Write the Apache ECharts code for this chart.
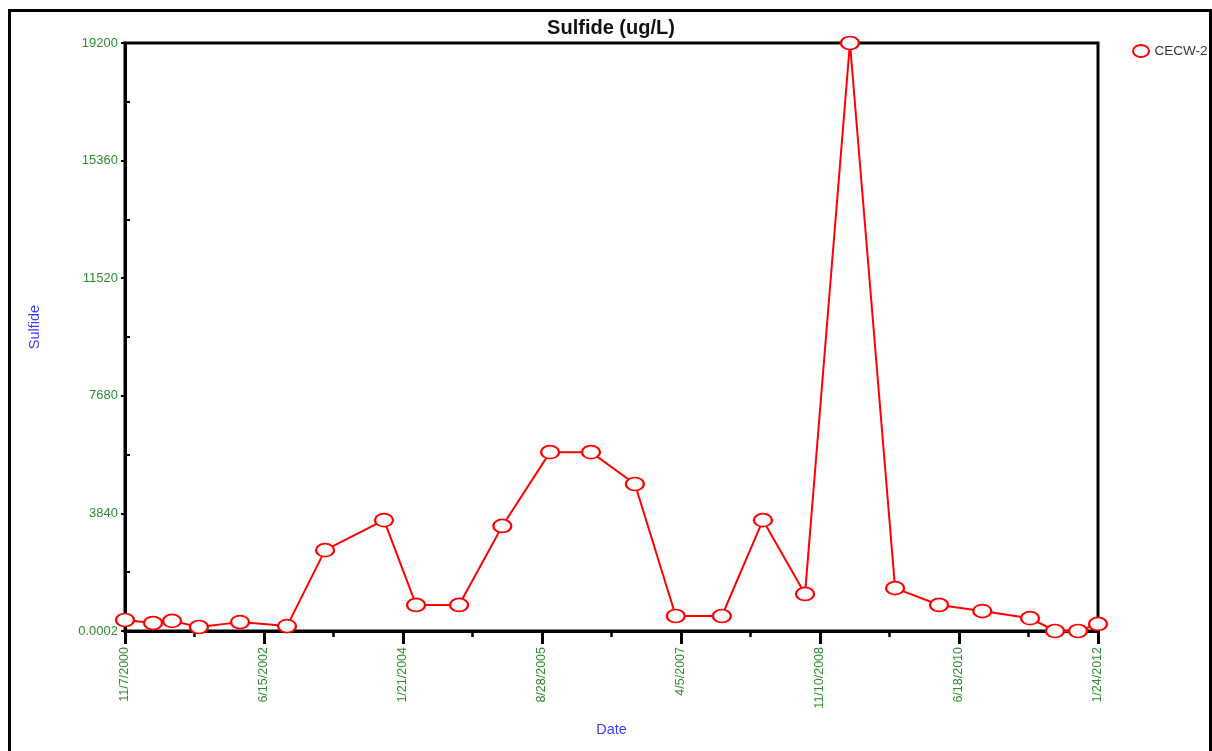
<!DOCTYPE html>
<html>
<head>
<meta charset="utf-8">
<title>Sulfide (ug/L)</title>
<script src="https://cdn.jsdelivr.net/npm/echarts@6/dist/echarts.min.js"></script>
<style>
  html, body { margin: 0; padding: 0; background: #fff; }
  #chart { width: 1212px; height: 751px; }
</style>
</head>
<body>
<div id="chart"></div>
<script>
// Sampling dates for well CECW-2 (M/D/YYYY)
const sampleDates = [
  '11/7/2000', '3/5/2001', '5/24/2001', '9/14/2001', '3/6/2002', '9/20/2002',
  '2/27/2003', '11/2/2003', '3/16/2004', '9/13/2004', '3/14/2005', '10/1/2005',
  '3/22/2006', '9/23/2006', '3/14/2007', '9/24/2007', '3/15/2008', '9/8/2008',
  '3/16/2009', '9/22/2009', '3/26/2010', '9/24/2010', '4/13/2011', '7/27/2011',
  '11/1/2011', '1/24/2012'
];
// Sulfide concentration, ug/L
const sulfideValues = [
  360, 260, 330, 130, 290, 160,
  2640, 3620, 850, 850, 3430, 5840,
  5840, 4800, 490, 490, 3620, 1210,
  19200, 1400, 850, 650, 420, 0,
  0, 230
];
// Axis tick labels
const xTickLabels = ['11/7/2000', '6/15/2002', '1/21/2004', '8/28/2005', '4/5/2007', '11/10/2008', '6/18/2010', '1/24/2012'];
const yTickLabels = ['0.0002', '3840', '7680', '11520', '15360', '19200'];

const DAY = 86400000;
function parseDate(s) {
  const [m, d, y] = s.split('/').map(Number);
  return Date.UTC(y, m - 1, d);
}
const origin = parseDate(xTickLabels[0]);
const toDays = s => Math.round((parseDate(s) - origin) / DAY);

const xStep = toDays(xTickLabels[1]);                       // 585 days
const xMax = toDays(xTickLabels[xTickLabels.length - 1]);   // 4095 days
const yStep = 3840;
const yMax = yStep * (yTickLabels.length - 1);

const seriesData = sampleDates.map((d, i) => [toDays(d), sulfideValues[i]]);

const font = 'Liberation Sans, Arial, sans-serif';
const green = '#2e8b2e';
const blue = '#3c3cff';
const red = '#ff0000';
const ellipse = 'path://M0,6 A8,6 0 1 0 16,6 A8,6 0 1 0 0,6 Z';

const chart = echarts.init(document.getElementById('chart'), null, { renderer: 'canvas' });

chart.setOption({
  backgroundColor: '#fff',
  animation: false,
  textStyle: { fontFamily: font },
  title: {
    text: 'Sulfide (ug/L)',
    left: 606,
    textAlign: 'center',
    top: 13,
    textStyle: { fontSize: 20, fontWeight: 'bold', color: '#111', fontFamily: font }
  },
  legend: {
    left: 1132,
    top: 44,
    padding: 0,
    itemWidth: 17,
    itemHeight: 12,
    itemGap: 5,
    icon: ellipse,
    textStyle: { fontSize: 13.5, color: '#333', fontFamily: font },
    data: ['CECW-2']
  },
  grid: {
    left: 125, right: 114, top: 43, bottom: 120,
    show: true, borderColor: '#000', borderWidth: 3, backgroundColor: 'transparent'
  },
  xAxis: {
    type: 'value',
    min: 0,
    max: xMax,
    interval: xStep,
    name: 'Date',
    nameLocation: 'middle',
    nameGap: 91,
    nameTextStyle: { color: blue, fontSize: 14.5, fontFamily: font },
    axisLine: { show: true, lineStyle: { color: '#000', width: 3 } },
    axisTick: { show: true, inside: false, length: 13, lineStyle: { color: '#000', width: 3 } },
    minorTick: { show: true, splitNumber: 2, length: 6, lineStyle: { color: '#000', width: 2.5 } },
    splitLine: { show: false },
    axisLabel: {
      rotate: 90,
      margin: 16,
      fontSize: 12.5,
      color: green,
      fontFamily: font,
      formatter: v => xTickLabels[Math.round(v / xStep)] || ''
    }
  },
  yAxis: [
    {
      type: 'value',
      min: 0,
      max: yMax,
      interval: yStep,
      name: 'Sulfide',
      nameLocation: 'middle',
      nameGap: 83,
      nameTextStyle: { color: blue, fontSize: 14.5, fontFamily: font, padding: [0, 0, 0, 20] },
      axisLine: { show: true, lineStyle: { color: '#000', width: 3 } },
      axisTick: { show: true, inside: false, length: 4, lineStyle: { color: '#000', width: 2 } },
      splitLine: { show: false },
      axisLabel: {
        margin: 7,
        fontSize: 13,
        color: green,
        fontFamily: font,
        formatter: v => yTickLabels[Math.round(v / yStep)] || ''
      }
    },
    {
      // inward minor ticks between the labelled values
      type: 'value',
      position: 'left',
      min: 0,
      max: yMax,
      interval: yStep,
      axisLine: { show: false },
      axisTick: { show: false, inside: true },
      minorTick: { show: true, splitNumber: 2, length: 5, lineStyle: { color: '#000', width: 2 } },
      axisLabel: { show: false },
      splitLine: { show: false }
    }
  ],
  series: [
    {
      name: 'CECW-2',
      type: 'line',
      xAxisIndex: 0,
      yAxisIndex: 0,
      data: seriesData,
      clip: false,
      symbol: ellipse,
      symbolSize: [18, 13],
      showAllSymbol: true,
      lineStyle: { color: red, width: 2 },
      itemStyle: { color: '#fff', borderColor: red, borderWidth: 2 },
      z: 5
    }
  ],
  graphic: [
    {
      type: 'rect',
      shape: { x: 9.5, y: 10.5, width: 1201, height: 800 },
      style: { fill: 'none', stroke: '#000', lineWidth: 3 },
      silent: true,
      z: -1
    }
  ]
});
</script>
</body>
</html>
